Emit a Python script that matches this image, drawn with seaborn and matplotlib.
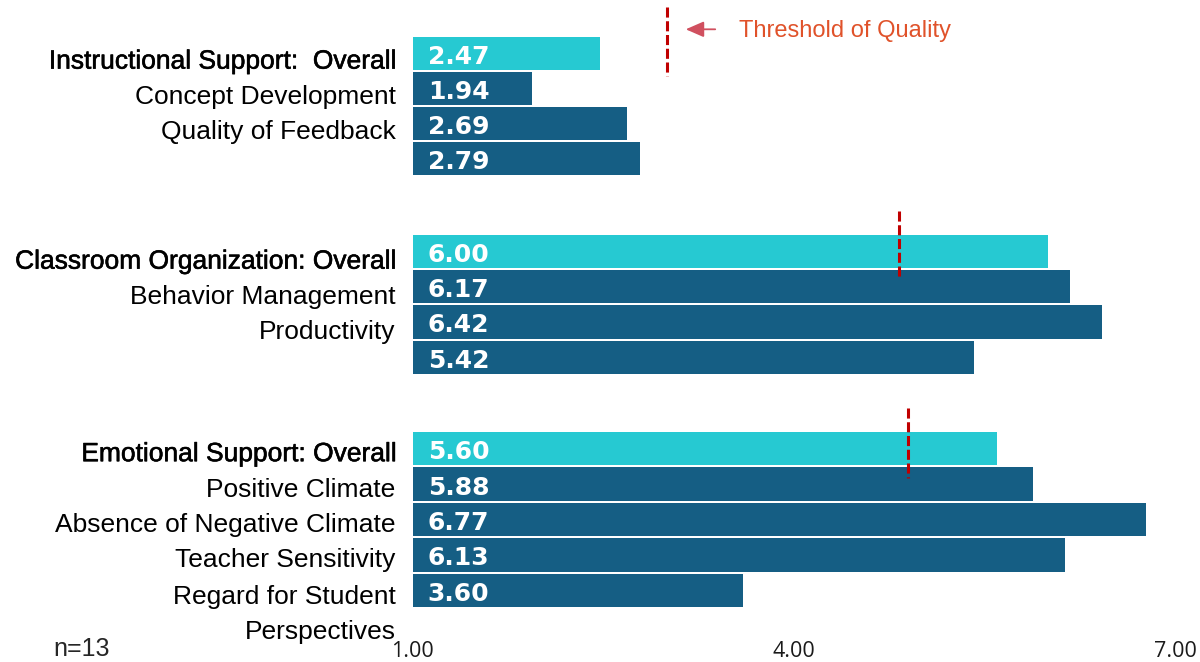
import pandas as pd
import matplotlib.pyplot as plt
import matplotlib.patheffects as pe
import seaborn as sns

# Scores CLASS (n=13)
is_labels = ['Instructional Support:  Overall', 'Concept Development', 'Quality of Feedback', '']
is_scores = [2.47, 1.94, 2.69, 2.79]

co_labels = ['Classroom Organization: Overall', 'Behavior Management', 'Productivity', '']
co_scores = [6.00, 6.17, 6.42, 5.42]

es_labels = ['Emotional Support: Overall', 'Positive Climate', 'Absence of Negative Climate',
             'Teacher Sensitivity', 'Regard for Student\nPerspectives']
es_scores = [5.60, 5.88, 6.77, 6.13, 3.60]

# linha "Threshold of Quality" de cada bloco
thresholds = [3.00, 4.83, 4.90]

x_ticks = [1, 4, 7]
x_ticklabels = ['1.00', '4.00', '7.00']
amostra = 'n=13'

CIANO = '#26C9D2'
AZUL = '#155E84'
VERMELHO = '#C00000'

sns.set_style('white')
plt.rcParams['font.family'] = ['Liberation Sans', 'DejaVu Sans']

W, H = 1200, 662
fig = plt.figure(figsize=(12, 6.62), dpi=100)

# (labels, scores, threshold, topo/base do eixo em px, deslocamento dos rotulos, extensao da linha)
blocos = [
    (is_labels, is_scores, thresholds[0], (35.5, 176.5), 6, (-1.30, 0.66)),
    (co_labels, co_scores, thresholds[1], (233.5, 375.0), 8, (-1.15, 0.80)),
    (es_labels, es_scores, thresholds[2], (431.0, 608.0), 3, (-1.15, 0.82)),
]

left_px, right_px = 412.7, 1175.3

for k, (labels, scores, thr, (topo, base), off, (y0, y1)) in enumerate(blocos):
    ax = fig.add_axes([left_px / W, 1 - base / H, (right_px - left_px) / W, (base - topo) / H])
    df = pd.DataFrame({
        'label': labels,
        'score': scores,
        'tipo': ['Overall'] + ['Dimension'] * (len(labels) - 1),
    })
    sns.barplot(data=df, y='label', x='score', hue='tipo', orient='h',
                palette={'Overall': CIANO, 'Dimension': AZUL}, saturation=1,
                dodge=False, width=0.94, errorbar=None, legend=False,
                edgecolor='none', linewidth=0, ax=ax)
    ax.set_xlim(1, 7)
    ax.set_ylim(len(labels) - 0.5, -0.5)
    ax.set_yticks([])
    ax.set_ylabel('')
    ax.set_xlabel('')
    sns.despine(ax=ax, left=True, bottom=True)

    # valores dentro das barras
    for i, v in enumerate(scores):
        ax.annotate(f'{v:.2f}', xy=(1, i), xytext=(15, -1), textcoords='offset pixels',
                    ha='left', va='center_baseline', color='white', fontsize=18,
                    fontweight='bold', fontfamily='DejaVu Sans')

    # rotulos das categorias
    for i, lab in enumerate(labels):
        if not lab:
            continue
        kw = dict(xycoords=('axes fraction', 'data'), textcoords='offset pixels',
                  ha='right', fontsize=19, color='black')
        if '\n' in lab:
            ax.annotate(lab, xy=(0, i), xytext=(-17, 5), va='top', linespacing=1.58, **kw)
        elif i == 0:
            ax.annotate(lab, xy=(0, i), xytext=(-16, -off), va='center_baseline',
                        path_effects=[pe.withStroke(linewidth=0.4, foreground='black')], **kw)
        else:
            ax.annotate(lab, xy=(0, i), xytext=(-17, -off), va='center_baseline', **kw)

    # linha de qualidade
    ax.vlines(thr, y0, y1, colors=VERMELHO, linewidth=2.2,
              linestyles=[(0, (3.3, 1.2))], clip_on=False, zorder=5)

    if k < len(blocos) - 1:
        ax.set_xticks([])
    else:
        ax.set_xticks(x_ticks, x_ticklabels)
        ax.tick_params(axis='x', length=0, pad=24, labelsize=15.5, labelcolor='#1a1a1a')
        for t in ax.get_xticklabels():
            t.set_fontfamily('Open Sans')

# legenda da linha
fig.text(739 / W, 1 - 28 / H, 'Threshold of Quality', color='#E0522A', fontsize=17,
         va='center_baseline', ha='left')
fig.add_artist(plt.matplotlib.patches.FancyArrowPatch(
    (718 / W, 1 - 29.3 / H), (683 / W, 1 - 29.3 / H), transform=fig.transFigure,
    arrowstyle='-|>,head_length=0.55,head_width=0.24', mutation_scale=20,
    color='#D0505F', lw=1.3))

fig.text(53 / W, 1 - 656 / H, amostra, fontsize=18, va='baseline', ha='left')

fig.savefig('out.png', dpi=100)
